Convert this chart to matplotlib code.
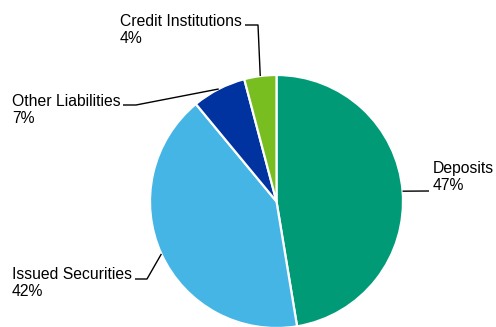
import numpy as np
import matplotlib.pyplot as plt

plt.rcParams['font.family'] = ['Liberation Sans', 'DejaVu Sans']

# Shares of liabilities (%)
labels = ['Deposits', 'Issued Securities', 'Other Liabilities', 'Credit Institutions']
shares = [47.4, 41.6, 6.9, 4.1]
colors = ['#009B76', '#45B5E5', '#0033A0', '#78BE21']

W, H = 496, 327
cx, cy, R = 276.5, 201.5, 126.5  # pie centre / radius in pixels


def px(x, y):
    # pixel (from top-left) -> data coords where pie radius = 1
    return (x - cx) / R, (cy - y) / R


fig = plt.figure(figsize=(W / 100, H / 100), dpi=100)
ax = fig.add_axes([0, 0, 1, 1])
wedges, _ = ax.pie(shares, colors=colors, startangle=90, counterclock=False,
                   radius=1, wedgeprops=dict(edgecolor='white', linewidth=1.6))
ax.set_aspect('auto')
ax.set_xlim(px(0, 0)[0], px(W, 0)[0])
ax.set_ylim(px(0, H)[1], px(0, 0)[1])
ax.axis('off')

# label text (left, top) and leader elbow points in pixels
text_pos = [(433, 161), (12, 267), (12, 94), (120, 14)]
elbows = [[(429, 191)],
          [(147, 279), (135, 279)],
          [(136, 105), (123, 105)],
          [(258, 25), (245, 25)]]

for w, lab, s, tp, el in zip(wedges, labels, shares, text_pos, elbows):
    mid = np.deg2rad((w.theta1 + w.theta2) / 2)
    pts = [(np.cos(mid), np.sin(mid))] + [px(*p) for p in el]
    xs, ys = zip(*pts)
    ax.plot(xs, ys, color='black', lw=1.0, solid_capstyle='butt', clip_on=False)
    tx, ty = px(*tp)
    ax.text(tx, ty, f'{lab}\n{s:.0f}%', ha='left', va='top', fontsize=11.3,
            color='black')

fig.savefig('out.png', dpi=100)
